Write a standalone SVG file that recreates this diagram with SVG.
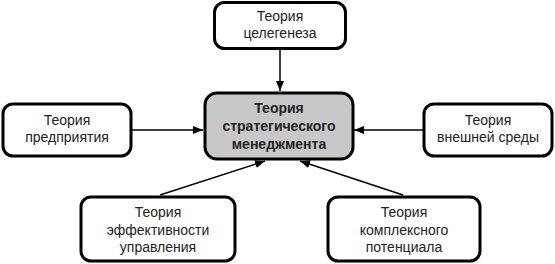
<svg xmlns="http://www.w3.org/2000/svg" width="555" height="264" viewBox="0 0 555 264">
<style>
.box{fill:#fff;stroke:#000;stroke-width:3}
.main{fill:#c8c8c8;stroke:#000;stroke-width:3}
.t{font-family:"Liberation Sans",Arial,sans-serif;font-size:14px;fill:#222;text-anchor:middle}
.tb{font-family:"Liberation Sans",Arial,sans-serif;font-size:14px;font-weight:bold;fill:#222;text-anchor:middle}
.c{stroke:#000;stroke-width:1.5;fill:none;marker-end:url(#ah)}
</style>
<defs>
<marker id="ah" viewBox="0 0 10 8" refX="10" refY="4" markerWidth="10" markerHeight="8" markerUnits="userSpaceOnUse" orient="auto">
<path d="M0,0 L10,4 L0,8 Z" fill="#000"/>
</marker>
</defs>
<g id="connectors">
<line class="c" x1="280" y1="50" x2="280" y2="91"/>
<line class="c" x1="132" y1="130" x2="203" y2="130"/>
<line class="c" x1="423" y1="130" x2="354" y2="130"/>
<line class="c" x1="160" y1="195" x2="265" y2="161"/>
<line class="c" x1="403" y1="195" x2="300" y2="161"/>
</g>
<g id="node-center">
<rect class="main" x="205" y="93" width="148" height="66" rx="12"/>
<text class="tb" x="279" y="113">Теория</text>
<text class="tb" x="279" y="131">стратегического</text>
<text class="tb" x="279" y="149">менеджмента</text>
</g>
<g id="node-top">
<rect class="box" x="214.5" y="2.5" width="131" height="46" rx="10"/>
<text class="t" x="280" y="21">Теория</text>
<text class="t" x="280" y="38">целегенеза</text>
</g>
<g id="node-left">
<rect class="box" x="3" y="104" width="128" height="52" rx="10"/>
<text class="t" x="67" y="125">Теория</text>
<text class="t" x="67" y="142">предприятия</text>
</g>
<g id="node-right">
<rect class="box" x="424" y="104" width="128" height="52" rx="10"/>
<text class="t" x="488" y="125">Теория</text>
<text class="t" x="488" y="142">внешней среды</text>
</g>
<g id="node-bottom-left">
<rect class="box" x="81" y="197" width="154" height="64" rx="10"/>
<text class="t" x="158" y="217">Теория</text>
<text class="t" x="158" y="235">эффективности</text>
<text class="t" x="158" y="252">управления</text>
</g>
<g id="node-bottom-right">
<rect class="box" x="328" y="197" width="152" height="64" rx="10"/>
<text class="t" x="404" y="217">Теория</text>
<text class="t" x="404" y="235">комплексного</text>
<text class="t" x="404" y="252">потенциала</text>
</g>
</svg>
